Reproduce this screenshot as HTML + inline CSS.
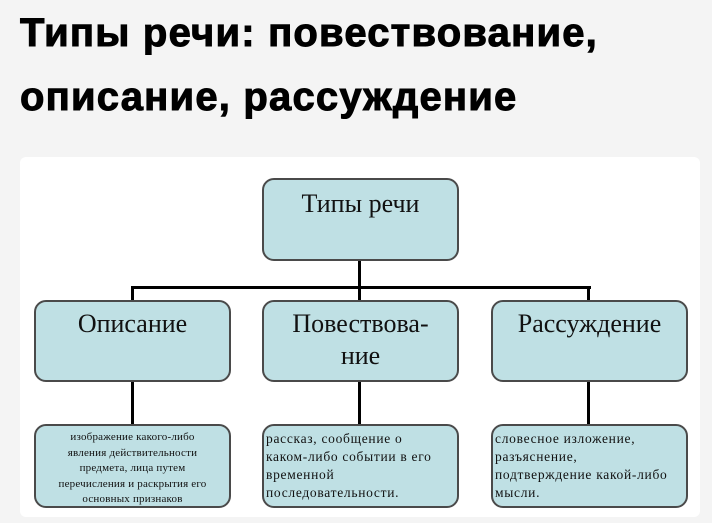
<!DOCTYPE html>
<html><head><meta charset="utf-8"><style>
body{margin:0;width:712px;height:523px;background:#f4f4f4;position:relative;overflow:hidden;font-family:"Liberation Sans","DejaVu Sans",sans-serif}
.t{position:absolute;left:20px;font-weight:900;font-size:40px;color:#000;white-space:nowrap;letter-spacing:1.2px;-webkit-text-stroke:1px #000}
.card{position:absolute;left:20px;top:157px;width:680px;height:360px;background:#fff;border-radius:6px}
.b{position:absolute;background:#bfe0e4;border:2px solid #4a4a4a;border-radius:12px;box-sizing:border-box;font-family:"Liberation Serif",serif;color:#111}
.big{font-size:26px;text-align:center;line-height:32px}
.sm{font-size:13.5px;line-height:18px;white-space:nowrap;overflow:hidden;letter-spacing:0.7px}
.l{position:absolute;background:#000}
</style></head><body>
<div class="t" style="top:11px">Типы речи: повествование,</div>
<div class="t" style="top:75px">описание, рассуждение</div>
<div class="card"></div>
<div class="l" style="left:358px;top:259px;width:3px;height:30px"></div>
<div class="l" style="left:131px;top:286px;width:460px;height:3px"></div>
<div class="l" style="left:131px;top:286px;width:3px;height:16px"></div>
<div class="l" style="left:358px;top:286px;width:3px;height:16px"></div>
<div class="l" style="left:587px;top:286px;width:3px;height:16px"></div>
<div class="l" style="left:131px;top:380px;width:3px;height:46px"></div>
<div class="l" style="left:358px;top:380px;width:3px;height:46px"></div>
<div class="l" style="left:587px;top:380px;width:3px;height:46px"></div>
<div class="b big" style="left:262px;top:178px;width:197px;height:83px;padding-top:8px">Типы речи</div>
<div class="b big" style="left:34px;top:300px;width:197px;height:82px;padding-top:6px">Описание</div>
<div class="b big" style="left:262px;top:300px;width:197px;height:82px;padding-top:6px">Повествова-<br>ние</div>
<div class="b big" style="left:491px;top:300px;width:197px;height:82px;padding-top:6px">Рассуждение</div>
<div class="b sm" style="left:34px;top:424px;width:197px;height:84px;padding-top:4px;text-align:center;font-size:11px;line-height:15.5px;letter-spacing:0.2px">изображение какого-либо<br>явления действительности<br>предмета, лица путем<br>перечисления и раскрытия его<br>основных признаков</div>
<div class="b sm" style="left:262px;top:424px;width:197px;height:84px;padding:4px 0 0 2px">рассказ, сообщение о<br>каком-либо событии в его<br>временной<br>последовательности.</div>
<div class="b sm" style="left:491px;top:424px;width:197px;height:84px;padding:4px 0 0 2px">словесное изложение,<br>разъяснение,<br>подтверждение какой-либо<br>мысли.</div>
</body></html>
